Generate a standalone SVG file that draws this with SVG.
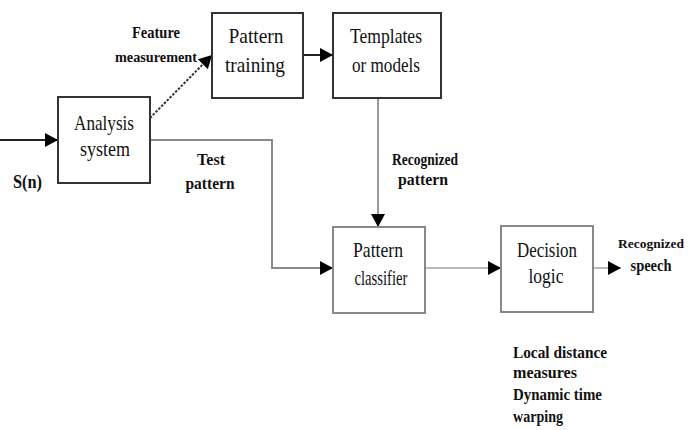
<svg xmlns="http://www.w3.org/2000/svg" width="689" height="430" viewBox="0 0 689 430">
  <defs>
    <marker id="arrow" markerUnits="userSpaceOnUse" markerWidth="14" markerHeight="15" refX="13" refY="7" orient="auto">
      <path d="M0,0 L13,7 L0,14 Z" fill="#000"/>
    </marker>
    <style>
      .box { fill: #fff; stroke-width: 2; }
      .dark { stroke: #333; }
      .grey { stroke: #888; }
      .lbl { font-family: "Liberation Serif", "Times New Roman", serif; font-size: 22px; fill: #111; text-anchor: middle; }
      .note { font-family: "Liberation Serif", "Times New Roman", serif; font-size: 17px; font-weight: bold; fill: #111; }
      .mid { text-anchor: middle; }
      .wire { fill: none; stroke-width: 2; }
    </style>
  </defs>
  <rect width="689" height="430" fill="#fff"/>

  <!-- connectors -->
  <g id="connectors">
    <line class="wire" x1="0" y1="140" x2="58" y2="140" stroke="#222" marker-end="url(#arrow)"/>
    <line class="wire" x1="150" y1="118" x2="212" y2="55" stroke="#333" stroke-width="1.5" stroke-dasharray="2.5,1.5" marker-end="url(#arrow)"/>
    <line class="wire" x1="303" y1="55" x2="333" y2="55" stroke="#222" marker-end="url(#arrow)"/>
    <polyline class="wire" points="150,140 272,140 272,268 333,268" stroke="#8a8a8a" marker-end="url(#arrow)"/>
    <line class="wire" x1="378" y1="98" x2="378" y2="227" stroke="#999" marker-end="url(#arrow)"/>
    <line class="wire" x1="425" y1="268" x2="501" y2="268" stroke="#bbb" marker-end="url(#arrow)"/>
    <line class="wire" x1="593" y1="268" x2="621" y2="268" stroke="#bbb" marker-end="url(#arrow)"/>
  </g>

  <g id="analysis">
    <rect class="box dark" x="58" y="97" width="92" height="86"/>
    <text class="lbl" x="104" y="130" textLength="60" lengthAdjust="spacingAndGlyphs">Analysis</text>
    <text class="lbl" x="105" y="156" textLength="50" lengthAdjust="spacingAndGlyphs">system</text>
  </g>

  <g id="training">
    <rect class="box dark" x="212" y="13" width="91" height="85"/>
    <text class="lbl" x="256" y="43" textLength="55" lengthAdjust="spacingAndGlyphs">Pattern</text>
    <text class="lbl" x="255" y="72" textLength="60" lengthAdjust="spacingAndGlyphs">training</text>
  </g>

  <g id="templates">
    <rect class="box dark" x="333" y="13" width="108" height="85"/>
    <text class="lbl" x="386" y="43" textLength="72" lengthAdjust="spacingAndGlyphs">Templates</text>
    <text class="lbl" x="386" y="72" textLength="68" lengthAdjust="spacingAndGlyphs">or models</text>
  </g>

  <g id="classifier">
    <rect class="box grey" x="333" y="227" width="92" height="86"/>
    <text class="lbl" x="378" y="257" textLength="50" lengthAdjust="spacingAndGlyphs">Pattern</text>
    <text class="lbl" x="381" y="285" textLength="53" lengthAdjust="spacingAndGlyphs">classifier</text>
  </g>

  <g id="decision">
    <rect class="box grey" x="501" y="226" width="92" height="86"/>
    <text class="lbl" x="547" y="257" textLength="60" lengthAdjust="spacingAndGlyphs">Decision</text>
    <text class="lbl" x="546" y="283" textLength="35" lengthAdjust="spacingAndGlyphs">logic</text>
  </g>

  <!-- labels -->
  <g id="labels">
    <text class="note mid" x="156" y="38" textLength="48" lengthAdjust="spacingAndGlyphs">Feature</text>
    <text class="note mid" x="156" y="62" style="font-size:14px" textLength="82" lengthAdjust="spacingAndGlyphs">measurement</text>
    <text class="note mid" x="211" y="165" textLength="28" lengthAdjust="spacingAndGlyphs">Test</text>
    <text class="note mid" x="210" y="189" textLength="49" lengthAdjust="spacingAndGlyphs">pattern</text>
    <text class="note" x="13" y="188" style="font-size:19px" textLength="29" lengthAdjust="spacingAndGlyphs">S(n)</text>
    <text class="note mid" x="425" y="165" textLength="66" lengthAdjust="spacingAndGlyphs">Recognized</text>
    <text class="note mid" x="423" y="185" textLength="50" lengthAdjust="spacingAndGlyphs">pattern</text>
    <text class="note mid" x="651" y="248" style="font-size:13.5px">Recognized</text>
    <text class="note mid" x="651" y="271" textLength="41" lengthAdjust="spacingAndGlyphs">speech</text>
    <text class="note" x="513" y="358" textLength="94" lengthAdjust="spacingAndGlyphs">Local distance</text>
    <text class="note" x="513" y="378" textLength="64" lengthAdjust="spacingAndGlyphs">measures</text>
    <text class="note" x="513" y="400" textLength="89" lengthAdjust="spacingAndGlyphs">Dynamic time</text>
    <text class="note" x="513" y="422" textLength="50" lengthAdjust="spacingAndGlyphs">warping</text>
  </g>
</svg>
